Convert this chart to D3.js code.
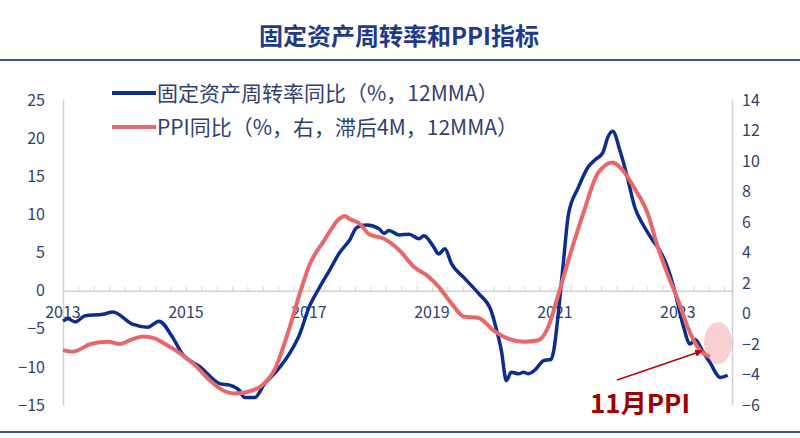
<!DOCTYPE html><html><head><meta charset="utf-8"><script src="https://cdn.jsdelivr.net/npm/d3@7"></script>
<style>body{margin:0;background:#fff}text{font-family:"Noto Sans CJK SC",Arial,sans-serif}</style></head><body><svg id="c" width="800" height="438"></svg><script>
const blueT=[2013.0,2013.08,2013.2,2013.36,2013.65,2013.81,2014.13,2014.38,2014.56,2014.78,2014.94,2015.23,2015.55,2015.71,2015.87,2015.95,2016.12,2016.28,2016.48,2016.68,2016.85,2017.0,2017.17,2017.33,2017.5,2017.66,2017.78,2017.94,2018.14,2018.22,2018.3,2018.47,2018.63,2018.79,2018.87,2019.03,2019.11,2019.21,2019.32,2019.52,2019.76,2019.96,2020.04,2020.13,2020.21,2020.29,2020.41,2020.49,2020.57,2020.69,2020.81,2020.94,2020.98,2021.06,2021.14,2021.22,2021.38,2021.54,2021.66,2021.78,2021.86,2021.94,2022.06,2022.18,2022.3,2022.43,2022.59,2022.71,2022.83,2022.96,2023.08,2023.2,2023.28,2023.4,2023.52,2023.69,2023.81];
const blueV=[-4.0,-3.7,-4.1,-3.3,-3.1,-2.8,-4.4,-4.8,-4.0,-6.1,-8.3,-10,-12.2,-12.4,-13.1,-14,-14,-12.2,-10.5,-8.3,-5.7,-2.2,0.4,2.6,5.0,6.6,8.3,8.6,8.1,7.5,7.9,7.3,7.4,6.8,7.2,5.7,4.8,5.5,3.5,1.7,-0.4,-2.6,-4.8,-7.9,-11.8,-10.7,-10.9,-10.7,-10.9,-10.3,-9.2,-9.0,-7.9,-2.6,3.9,10,13.5,16.2,17.2,18.1,20.1,20.9,18.3,14.8,10.9,8.7,6.6,5.2,3.1,-0.4,-4.4,-7.0,-6.4,-7.9,-9.4,-11.4,-11.1];
const redT=[2013.0,2013.16,2013.45,2013.73,2013.93,2014.09,2014.3,2014.5,2014.66,2014.9,2015.15,2015.39,2015.63,2015.79,2016.04,2016.24,2016.44,2016.64,2016.85,2017.0,2017.25,2017.49,2017.58,2017.66,2017.82,2017.98,2018.22,2018.47,2018.71,2018.95,2019.11,2019.32,2019.52,2019.76,2020.0,2020.24,2020.49,2020.73,2020.89,2021.06,2021.22,2021.46,2021.7,2021.94,2022.1,2022.31,2022.51,2022.67,2022.83,2023.0,2023.16,2023.32,2023.52];
const redV=[-2.4,-2.5,-2.0,-1.85,-2.0,-1.75,-1.5,-1.65,-2.0,-2.6,-3.4,-4.4,-5.1,-5.25,-5.1,-4.7,-3.7,-1.5,1.3,3.1,4.8,6.2,6.4,6.2,5.9,5.2,4.9,4.15,3.05,2.4,1.75,0.65,-0.2,-0.3,-1.1,-1.65,-1.85,-1.75,-0.9,1.3,3.5,6.55,9.2,9.9,9.4,8.1,6.55,4.4,2.6,0.9,-0.9,-2.2,-2.85];
const leftTicks=[25,20,15,10,5,0,-5,-10,-15];
const rightTicks=[14,12,10,8,6,4,2,0,-2,-4,-6];
const yearTicks=[2013,2015,2017,2019,2021,2023];
const svg=d3.select("#c");
const x=d3.scaleLinear().domain([2013,2023.88]).range([63,732]);
const yl=d3.scaleLinear().domain([-15,25]).range([405,100]);
const yr=d3.scaleLinear().domain([-6,14]).range([405,100]);
const blue="#0b2d8f",red="#e8686a",tc="#2f3f70";
svg.append("text").attr("x",399).attr("y",45).attr("text-anchor","middle").attr("font-size",24).attr("font-weight","bold").attr("fill","#1f3a8a").text("固定资产周转率和PPI指标");
[60,432].forEach(y=>svg.append("line").attr("x1",0).attr("x2",800).attr("y1",y).attr("y2",y).attr("stroke","#3a54a4").attr("stroke-width",2));
const gl=svg.append("g").attr("transform","translate(63,0)").call(d3.axisLeft(yl).tickValues(leftTicks).tickSize(0).tickPadding(18));
const gr=svg.append("g").attr("transform","translate(732,0)").call(d3.axisRight(yr).tickValues(rightTicks).tickSize(0).tickPadding(10));
[gl,gr].forEach(g=>{g.select(".domain").attr("stroke","#d0d0d0").attr("stroke-width",1.5);g.selectAll("text").attr("font-size",16).attr("fill",tc).attr("font-family","Arial Narrow,Liberation Sans Narrow,Arial,sans-serif");});
const gx=svg.append("g").attr("transform",`translate(0,${yl(0)})`).call(d3.axisBottom(x).tickValues(d3.range(2013,2023.9,0.25)).tickSize(-4).tickFormat(""));
gx.select(".domain").attr("stroke","#d0d0d0").attr("stroke-width",1.5);gx.selectAll(".tick line").attr("stroke","#d0d0d0");
svg.append("g").selectAll("text").data(yearTicks).join("text").attr("x",d=>x(d)).attr("y",yl(0)+27).attr("text-anchor","middle").attr("font-size",16).attr("fill",tc).attr("font-family","Arial Narrow,Liberation Sans Narrow,Arial,sans-serif").text(d=>d);
const lb=d3.line().x((d,i)=>x(blueT[i])).y(d=>yl(d)).curve(d3.curveMonotoneX);
const lr=d3.line().x((d,i)=>x(redT[i])).y(d=>yr(d)).curve(d3.curveMonotoneX);
svg.append("path").attr("d",lb(blueV)).attr("fill","none").attr("stroke",blue).attr("stroke-width",3.5);
svg.append("path").attr("d",lr(redV)).attr("fill","none").attr("stroke",red).attr("stroke-width",4);
[[blue,"固定资产周转率同比（%，12MMA）",93],[red,"PPI同比（%，右，滞后4M，12MMA）",127]].forEach(([c,t,y])=>{
svg.append("line").attr("x1",112).attr("x2",156).attr("y1",y).attr("y2",y).attr("stroke",c).attr("stroke-width",4);
svg.append("text").attr("x",157).attr("y",y+8).attr("font-size",21).attr("fill",tc).text(t);});
svg.append("ellipse").attr("cx",718).attr("cy",343).attr("rx",14).attr("ry",21).attr("fill","rgba(232,120,130,0.35)");
svg.append("defs").append("marker").attr("id","ar").attr("viewBox","0 0 10 10").attr("refX",9).attr("refY",5).attr("markerWidth",5).attr("markerHeight",5).attr("orient","auto").append("path").attr("d","M0,0L10,5L0,10z").attr("fill","#c00000");
svg.append("line").attr("x1",617).attr("y1",380).attr("x2",702).attr("y2",351).attr("stroke","#c00000").attr("stroke-width",1.5).attr("marker-end","url(#ar)");
svg.append("text").attr("x",640).attr("y",413).attr("text-anchor","middle").attr("font-size",26).attr("font-weight","bold").attr("fill","#a00000").text("11月PPI");
</script></body></html>
